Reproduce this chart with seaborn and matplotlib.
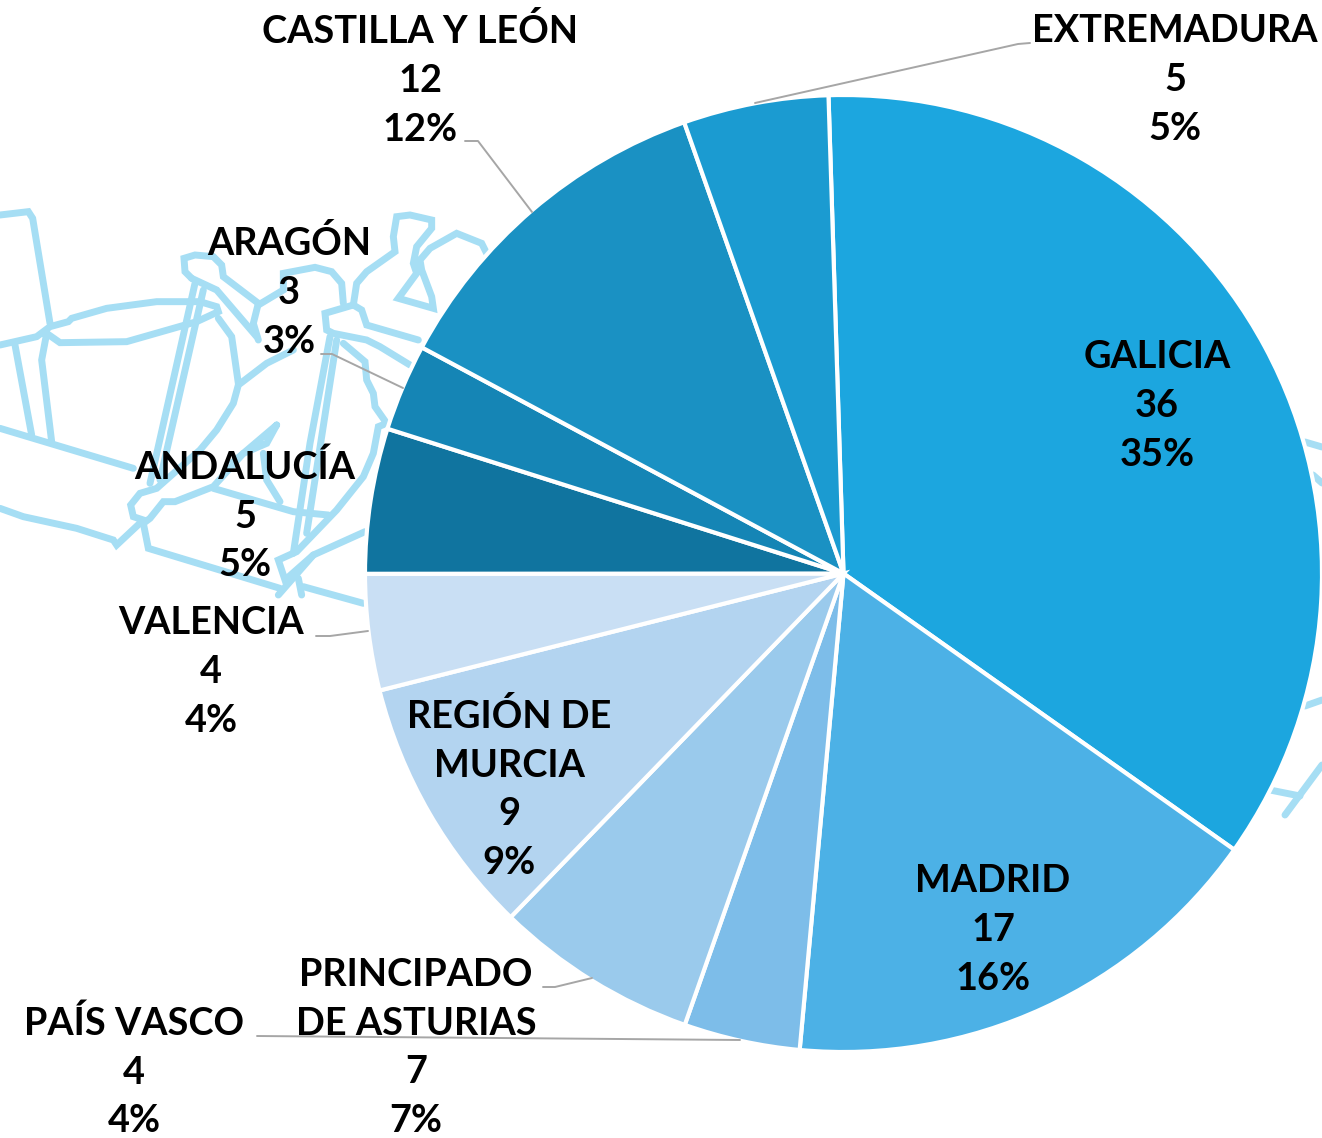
import matplotlib
matplotlib.use('Agg')
import matplotlib.pyplot as plt
import seaborn as sns

W, H = 1322, 1138

regions = ['GALICIA', 'MADRID', 'PAÍS VASCO', 'PRINCIPADO\nDE ASTURIAS', 'REGIÓN DE\nMURCIA',
           'VALENCIA', 'ANDALUCÍA', 'ARAGÓN', 'CASTILLA Y LEÓN', 'EXTREMADURA']
counts = [36, 17, 4, 7, 9, 4, 5, 3, 12, 5]
percents = ['35%', '16%', '4%', '7%', '9%', '4%', '5%', '3%', '12%', '5%']
colors = ['#1CA6DF', '#4CB1E6', '#7DBDE9', '#9ACAEC', '#B3D4F0',
          '#C9DFF4', '#10749F', '#1585B5', '#1A91C3', '#1B9BD1']
label_pos = [(1157, 406), (993, 930), (134, 1072), (416, 1048), (509, 789),
             (211, 672), (245, 516), (289, 292), (420, 80), (1175, 80)]

leaders = [
    [(1030, 43), (1018, 44), (755, 103)],
    [(465, 141), (478, 141), (532, 212)],
    [(321, 354), (332, 354), (403, 388)],
    [(316, 636), (330, 636), (368, 631)],
    [(543, 987), (555, 987), (592, 978)],
    [(257, 1036), (740, 1040)],
]

map_left = [
    [(0, 75), (85, 65), (98, 85), (150, 400)],
    [(0, 465), (110, 440), (150, 410), (205, 395), (215, 385), (320, 355), (470, 335), (600, 335),
     (650, 350), (655, 365), (590, 395), (380, 455), (180, 458), (140, 430), (125, 510), (155, 755)],
    [(45, 465), (95, 735)],
    [(0, 715), (400, 835)],
    [(640, 895), (880, 965), (985, 975)],
    [(0, 955), (70, 980), (230, 1015), (340, 1050), (350, 1065), (430, 990), (400, 980), (392, 945),
     (420, 910), (470, 895), (600, 780), (650, 720), (700, 640), (715, 585), (800, 520), (880, 480)],
    [(585, 280), (450, 880)],
    [(610, 300), (480, 870)],
    [(575, 265), (555, 245), (552, 205), (585, 195), (640, 200), (665, 225), (670, 260), (775, 340),
     (760, 400), (775, 450)],
    [(575, 265), (650, 300), (770, 440)],
    [(655, 385), (695, 440), (715, 580)],
    [(775, 345), (850, 300), (850, 250), (945, 232), (995, 245), (1025, 280), (1030, 340)],
    [(1060, 345), (975, 370), (980, 420), (1000, 430), (1100, 450), (1140, 470), (1230, 525)],
    [(1060, 345), (1085, 360), (1100, 405), (1255, 450)],
    [(1060, 345), (1070, 280), (1100, 245), (1185, 185), (1180, 140), (1190, 80), (1230, 75),
     (1295, 90), (1295, 115), (1250, 170), (1240, 220), (1250, 250), (1195, 325), (1300, 355),
     (1295, 320), (1265, 240), (1260, 210), (1290, 175), (1370, 130), (1445, 160), (1460, 190)],
    [(990, 440), (930, 760), (880, 1090)],
    [(1010, 450), (920, 1030)],
    [(1030, 460), (1095, 515), (1100, 570), (1120, 610), (1125, 650), (1160, 700), (1135, 710),
     (1120, 790), (1090, 860), (1010, 960), (890, 1085), (835, 1110), (855, 1170), (940, 1095), (1095, 1025)],
    [(940, 1095), (835, 1215)],
    [(830, 705), (800, 760), (730, 790), (830, 705)],
    [(730, 790), (640, 890), (525, 935), (490, 935), (450, 985), (430, 1000), (445, 1075), (840, 1195)],
    [(790, 790), (800, 870), (840, 935)],
    [(895, 1165), (905, 1215)],
    [(910, 1190), (1090, 1240)],
]
map_right = [
    [(1305, 442), (1322, 447)],
    [(1313, 475), (1322, 483)],
    [(1305, 706), (1322, 700)],
    [(1270, 790), (1300, 796)],
    [(1285, 815), (1322, 765)],
]

sns.set_theme(style='white')
plt.rcParams['font.family'] = ['Lato', 'DejaVu Sans']

fig = plt.figure(figsize=(W / 100, H / 100), dpi=100)
ax = fig.add_axes([0, 0, 1, 1])


def flip(points):
    return [p[0] for p in points], [H - p[1] for p in points]


for line in map_left:
    xs, ys = flip([(x / 3, y / 3 + 190) for x, y in line])
    ax.plot(xs, ys, color='#A6DEF4', lw=5, solid_joinstyle='miter', zorder=1)
for line in map_right:
    xs, ys = flip(line)
    ax.plot(xs, ys, color='#A6DEF4', lw=5, zorder=1)

wedges, _ = ax.pie(counts, colors=colors, startangle=91.8, counterclock=False,
                   center=(843.5, H - 573.5), radius=478.5, frame=True,
                   wedgeprops={'edgecolor': 'white', 'linewidth': 3, 'zorder': 2})

for line in leaders:
    xs, ys = flip(line)
    ax.plot(xs, ys, color='#A6A6A6', lw=1.4, zorder=3)

for name, count, pct, (x, y) in zip(regions, counts, percents, label_pos):
    ax.text(x, H - y, f'{name}\n{count}\n{pct}', ha='center', va='center', fontsize=27.3,
            fontweight='bold', color='black', linespacing=1.52, zorder=4)

ax.set_xlim(0, W)
ax.set_ylim(0, H)
ax.set_axis_off()

fig.savefig('out.png', dpi=100)
